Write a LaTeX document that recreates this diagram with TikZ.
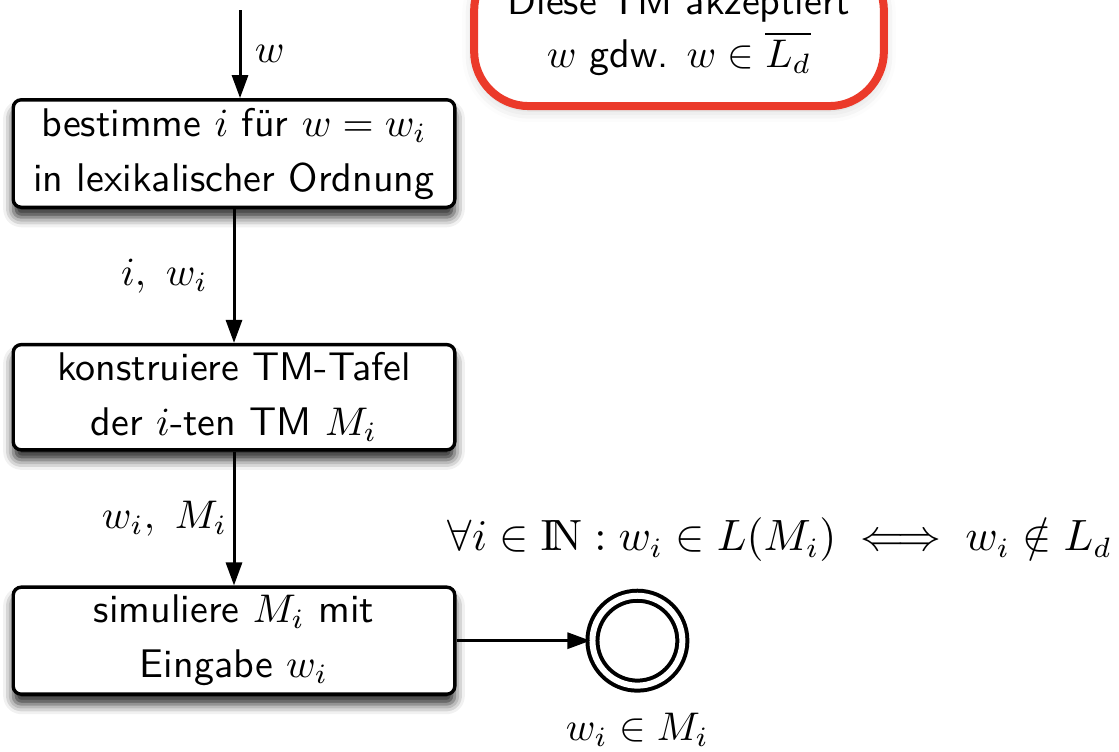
\documentclass[tikz,border=0pt]{standalone}
\usepackage{amsmath,amssymb}
\usepackage{tikz}
\usetikzlibrary{arrows.meta,positioning,shadows.blur}
\definecolor{tmred}{RGB}{235,58,42}
\tikzset{
  stepbox/.style={rectangle,rounded corners=2pt,draw,line width=0.85pt,fill=white,
    minimum width=3.88cm,minimum height=0.92cm,align=center,inner sep=2pt,
    font=\fontsize{10}{13.75}\selectfont\sffamily,
    blur shadow={shadow xshift=0pt,shadow yshift=-2.5pt,shadow blur radius=2.5pt,
      shadow opacity=85}},
  % the remark in the top right corner
  notebox/.style={rectangle,rounded corners=0.48cm,draw=tmred,line width=2pt,
    fill=white,minimum width=3.6cm,minimum height=1.32cm,align=center,
    font=\fontsize{10}{13.25}\selectfont\sffamily,
    blur shadow={shadow xshift=0pt,shadow yshift=-1pt,shadow blur radius=3pt,
      shadow opacity=20}},
  accept/.style={circle,draw,line width=1pt,double,double distance=1.5pt,
    minimum size=0.79cm,inner sep=0pt},
  arr/.style={-{Triangle[length=5.75pt,width=4pt]},line width=0.75pt},
  edgelab/.style={midway,xshift=-0.61cm}
}

\begin{document}
\begin{tikzpicture}[node distance=1.18cm]
  \useasboundingbox (0,0) rectangle (9.832,-6.599);
  \node[stepbox] (find) at (2.056,-1.349) {bestimme $i$ für $w=w_i$\\in lexikalischer Ordnung};
  \node[stepbox, below=1.177cm of find] (table) {konstruiere TM-Tafel\\der $i$-ten TM $M_i$};
  \node[stepbox, below=1.177cm of table] (sim) {simuliere $M_i$ mit\\Eingabe $w_i$};
  \node[accept, right=1.177cm of sim] (acc) {};
  \node[below=0.1cm of acc] (acclab) {$w_i\in M_i$};
  \coordinate (in) at (2.109,-0.088);
  \draw[arr] (in) -- (in |- find.north) node[midway,right] {$w$};
  \draw[arr] (find) -- (table) node[edgelab] {$i,\ w_i$};
  \draw[arr] (table) -- (sim) node[edgelab] {$w_i,\ M_i$};
  \draw[arr] (sim) -- (acc);
  \node[font=\fontsize{10.7}{13}\selectfont] (iff) at (6.853,-4.744)
    {$\forall i\in\mathrm{I\!N}: w_i\in L(M_i)\iff w_i\notin L_d$};
  \node[notebox] (note) at (5.966,-0.272) {Diese TM akzeptiert\\$w$ gdw. $w\in\overline{L_d}$};
\end{tikzpicture}
\end{document}
